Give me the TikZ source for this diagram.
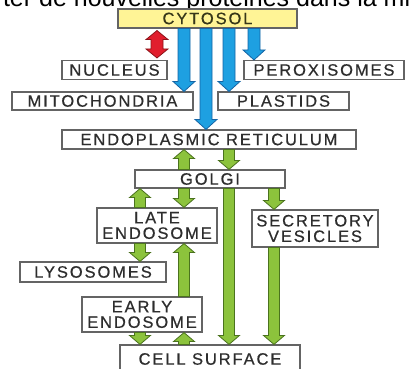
\documentclass[tikz,border=0pt]{standalone}
\usepackage{fontspec}
\setmainfont{Liberation Sans}
\newfontfamily\boxfont[LetterSpace=11.5, FakeBold=0.6]{Liberation Sans}
\usetikzlibrary{calc}
\definecolor{boxline}{RGB}{100,100,100}
\definecolor{boxtext}{RGB}{45,45,45}
\definecolor{cytotext}{RGB}{55,55,25}
\definecolor{cytofill}{RGB}{255,244,150}
\definecolor{bluefill}{RGB}{30,160,225}
\definecolor{blueline}{RGB}{20,100,165}
\definecolor{greenfill}{RGB}{140,195,60}
\definecolor{greenline}{RGB}{75,115,30}
\definecolor{redfill}{RGB}{225,30,45}
\definecolor{redline}{RGB}{140,20,25}
\tikzset{
  fshaft/.store in=\fatshaft, fhead/.store in=\fathead, flen/.store in=\fatlen,
  fshaft=5.5pt, fhead=10.5pt, flen=10pt,
  box/.style={draw=boxline, line width=1.1pt, fill=white, text=boxtext,
    font=\boxfont\fontsize{16.5}{15.5}\selectfont, inner sep=0pt, align=center},
  fat/.style={line width=0.8pt, line join=miter, to path={
    let \p1=(\tikztostart), \p2=(\tikztotarget), \p3=($(\p2)!\fatlen!(\p1)$) in
    (\x1-\fatshaft,\y1) -- (\x1-\fatshaft,\y3) -- (\x1-\fathead,\y3) -- (\x1,\y2)
    -- (\x1+\fathead,\y3) -- (\x1+\fatshaft,\y3) -- (\x1+\fatshaft,\y1) -- cycle}},
  fatboth/.style={line width=0.8pt, line join=miter, to path={
    let \p1=(\tikztostart), \p2=(\tikztotarget), \p3=($(\p2)!\fatlen!(\p1)$),
        \p4=($(\p1)!\fatlen!(\p2)$) in
    (\x1,\y1) -- (\x1+\fathead,\y4) -- (\x1+\fatshaft,\y4) -- (\x1+\fatshaft,\y3)
    -- (\x1+\fathead,\y3) -- (\x1,\y2) -- (\x1-\fathead,\y3) -- (\x1-\fatshaft,\y3)
    -- (\x1-\fatshaft,\y4) -- (\x1-\fathead,\y4) -- cycle}},
  bluearrow/.style={fat, fill=bluefill, draw=blueline, fshaft=6pt, fhead=11pt, flen=10pt},
  greenarrow/.style={fat, fill=greenfill, draw=greenline, fshaft=5.5pt, fhead=10.5pt, flen=9pt},
  redarrow/.style={fatboth, fill=redfill, draw=redline, fshaft=6pt, fhead=11pt, flen=9pt},
}
\begin{document}
\begin{tikzpicture}[x=1pt, y=-1pt]
\useasboundingbox (0,0) rectangle (410,369);
\fill[white] (0,0) rectangle (410,369);

\node[anchor=base west, inner sep=0pt, font=\fontsize{25}{30}\selectfont, text=black]
  (toptext) at (-5.5,6.5) {rter de nouvelles protéines dans la mi};

% boxes
\node[box, fill=cytofill, text=cytotext, minimum width=179pt, minimum height=19pt] (cyto) at (207.5,18.5) {CYTOSOL};
\node[box, minimum width=105pt, minimum height=19pt] (nucleus) at (114.5,70) {NUCLEUS};
\node[box, minimum width=160pt, minimum height=19pt] (perox) at (324,70) {PEROXISOMES};
\node[box, minimum width=181pt, minimum height=18pt] (mito) at (102.5,101) {MITOCHONDRIA};
\node[box, minimum width=131pt, minimum height=18pt] (plastids) at (283.5,101) {PLASTIDS};
\node[box, minimum width=294pt, minimum height=19pt] (er) at (209,139.5) {ENDOPLASMIC RETICULUM};
\node[box, minimum width=150pt, minimum height=18pt] (golgi) at (210,179) {GOLGI};
\node[box, minimum width=120pt, minimum height=35pt] (late) at (157,225.5) {LATE\\ENDOSOME};
\node[box, minimum width=126pt, minimum height=37pt] (secretory) at (315,228.5) {SECRETORY\\VESICLES};
\node[box, minimum width=146pt, minimum height=20pt] (lyso) at (93,272) {LYSOSOMES};
\node[box, minimum width=120pt, minimum height=35pt] (early) at (142,314.5) {EARLY\\ENDOSOME};
\node[box, minimum width=180pt, minimum height=28pt] (cell) at (210,359) {CELL SURFACE};

% columns
\coordinate (xr) at (157,0);
\coordinate (xb1) at (184,0);
\coordinate (xb2) at (206,0);
\coordinate (xb3) at (229,0);
\coordinate (xb4) at (254,0);
\coordinate (xg1) at (140,0);
\coordinate (xg2) at (184,0);
\coordinate (xg3) at (229,0);
\coordinate (xg4) at (274,0);

% cytosol arrows
\draw[redarrow] ($(cyto.south -| xr)+(0,2)$) to ($(nucleus.north -| xr)+(0,-2)$);
\draw[bluearrow] (cyto.south -| xb1) to (mito.north -| xb1);
\draw[bluearrow] (cyto.south -| xb2) to (er.north -| xb2);
\draw[bluearrow] (cyto.south -| xb3) to (plastids.north -| xb3);
\draw[bluearrow] (cyto.south -| xb4) to (perox.north -| xb4);

% secretory / endocytic arrows
\draw[greenarrow] (golgi.north -| xg2) to (er.south -| xg2);
\draw[greenarrow] (er.south -| xg3) to (golgi.north -| xg3);
\draw[greenarrow] (late.north -| xg1) to (golgi.south -| xg1);
\draw[greenarrow] (golgi.south -| xg2) to (late.north -| xg2);
\draw[greenarrow] (golgi.south -| xg3) to (cell.north -| xg3);
\draw[greenarrow] (golgi.south -| xg4) to (secretory.north -| xg4);
\draw[greenarrow] (late.south -| xg1) to (lyso.north -| xg1);
\draw[greenarrow] (early.north -| xg2) to (late.south -| xg2);
\draw[greenarrow] (secretory.south -| xg4) to (cell.north -| xg4);
\draw[greenarrow] (early.south -| xg1) to (cell.north -| xg1);
\draw[greenarrow] (cell.north -| xg2) to (early.south -| xg2);
\end{tikzpicture}
\end{document}
